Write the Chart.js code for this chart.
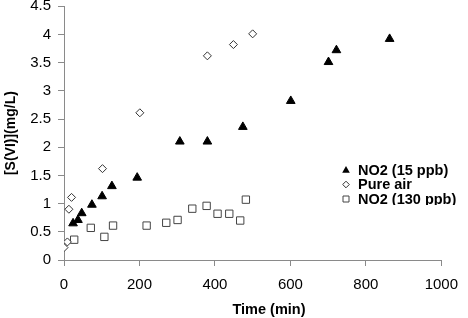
<!DOCTYPE html>
<html>
<head>
<meta charset="utf-8">
<script src="https://cdn.jsdelivr.net/npm/chart.js"></script>
<style>
  html, body { margin: 0; padding: 0; background: #fff; }
  #wrap { width: 468px; height: 318px; }
</style>
</head>
<body>
<div id="wrap"><canvas id="c" width="468" height="318"></canvas></div>
<script>
// ---- Data ----
const seriesNames = ['NO2 (15 ppb)', 'Pure air', 'NO2 (130 ppb)'];

const no2LowTime  = [24, 37, 47, 74, 101, 127, 194, 307, 380, 474, 601, 701, 722, 863];
const no2LowConc  = [0.65, 0.71, 0.83, 0.98, 1.13, 1.31, 1.46, 2.10, 2.10, 2.36, 2.82, 3.51, 3.72, 3.92];

const pureAirTime = [0, 9, 13, 20, 102, 201, 380, 449, 500];
const pureAirConc = [0.22, 0.32, 0.90, 1.11, 1.62, 2.61, 3.62, 3.82, 4.01];

const no2HighTime = [27, 71, 107, 130, 219, 271, 301, 340, 378, 407, 438, 467, 482];
const no2HighConc = [0.36, 0.57, 0.41, 0.61, 0.61, 0.66, 0.71, 0.91, 0.96, 0.82, 0.82, 0.70, 1.07];

const xTicks = [0, 200, 400, 600, 800, 1000];
const yTicks = [0, 0.5, 1, 1.5, 2, 2.5, 3, 3.5, 4, 4.5];

const xTitle = 'Time (min)';
const yTitle = '[S(VI)](mg/L)';

// ---- Build ----
function pts(xs, ys) { return xs.map((x, i) => ({ x: x, y: ys[i] })); }

const AXIS = '#8a8a8a';
const FONT = 'Liberation Sans, Arial, sans-serif';

const xTitlePlugin = {
  id: 'xTitle',
  afterDraw(chart) {
    const ctx = chart.ctx;
    ctx.save();
    ctx.font = 'bold 14.5px ' + FONT;
    ctx.fillStyle = '#000';
    ctx.textAlign = 'center';
    ctx.textBaseline = 'middle';
    ctx.fillText(xTitle, 269, 310);
    ctx.restore();
  }
};

const legendPlugin = {
  id: 'customLegend',
  afterDraw(chart) {
    const ctx = chart.ctx;
    ctx.save();
    ctx.beginPath();
    ctx.rect(330, 155, 138, 50);
    ctx.clip();
    const x0 = 346, y0 = 170, dy = 14.5;
    chart.data.datasets.forEach((ds, i) => {
      const y = y0 + i * dy;
      ctx.lineWidth = 1;
      ctx.strokeStyle = ds.borderColor;
      ctx.fillStyle = ds.backgroundColor;
      ctx.beginPath();
      if (ds.pointStyle === 'triangle') {
        ctx.moveTo(x0, y - 4); ctx.lineTo(x0 + 3.8, y + 2.8); ctx.lineTo(x0 - 3.8, y + 2.8); ctx.closePath();
        ctx.fill();
      } else if (ds.pointStyle === 'rectRot') {
        ctx.moveTo(x0, y - 3.3); ctx.lineTo(x0 + 3.3, y); ctx.lineTo(x0, y + 3.3); ctx.lineTo(x0 - 3.3, y); ctx.closePath();
        ctx.fill(); ctx.stroke();
      } else {
        ctx.rect(x0 - 3, y - 3, 6, 6);
        ctx.fill(); ctx.stroke();
      }
      ctx.font = 'bold 14.5px ' + FONT;
      ctx.fillStyle = '#000';
      ctx.textAlign = 'left';
      ctx.textBaseline = 'middle';
      ctx.fillText(ds.label, 358, y + 0.5);
    });
    ctx.restore();
  }
};

const plainLabel = (v) => String(v);

new Chart(document.getElementById('c'), {
  type: 'scatter',
  data: {
    datasets: [
      { label: seriesNames[0], data: pts(no2LowTime, no2LowConc), pointStyle: 'triangle',
        radius: 5, backgroundColor: '#000', borderColor: '#000', borderWidth: 1 },
      { label: seriesNames[1], data: pts(pureAirTime, pureAirConc), pointStyle: 'rectRot',
        radius: 4, backgroundColor: '#fff', borderColor: '#333', borderWidth: 1 },
      { label: seriesNames[2], data: pts(no2HighTime, no2HighConc), pointStyle: 'rect',
        radius: 5.2, backgroundColor: '#fff', borderColor: '#444', borderWidth: 1 }
    ]
  },
  options: {
    responsive: false,
    animation: false,
    layout: { padding: { top: 3, right: 19, bottom: 0, left: 0 } },
    plugins: { legend: { display: false }, tooltip: { enabled: false } },
    scales: {
      x: {
        type: 'linear', min: xTicks[0], max: xTicks[xTicks.length - 1],
        afterBuildTicks(s) { s.ticks = xTicks.map(v => ({ value: v })); },
        afterFit(s) { s.height = 58; },
        ticks: { font: { family: FONT, size: 15 }, color: '#000', padding: 10, maxRotation: 0,
                 callback: plainLabel },
        grid: { drawOnChartArea: false, drawTicks: true, tickLength: 6, color: AXIS, lineWidth: 1 },
        border: { color: AXIS, width: 1 },
        title: { display: false }
      },
      y: {
        type: 'linear', min: yTicks[0], max: yTicks[yTicks.length - 1],
        afterBuildTicks(s) { s.ticks = yTicks.map(v => ({ value: v })); },
        afterFit(s) { s.width = 64; s.paddingTop = 0; s.paddingBottom = 0; },
        ticks: { font: { family: FONT, size: 15 }, color: '#000', padding: 7, callback: plainLabel },
        grid: { drawOnChartArea: false, drawTicks: true, tickLength: 6, color: AXIS, lineWidth: 1 },
        border: { color: AXIS, width: 1 },
        title: { display: true, text: yTitle, color: '#000',
                 font: { family: FONT, size: 14, weight: 'bold' }, padding: { top: 3, bottom: 0 } }
      }
    }
  },
  plugins: [xTitlePlugin, legendPlugin]
});
</script>
</body>
</html>
